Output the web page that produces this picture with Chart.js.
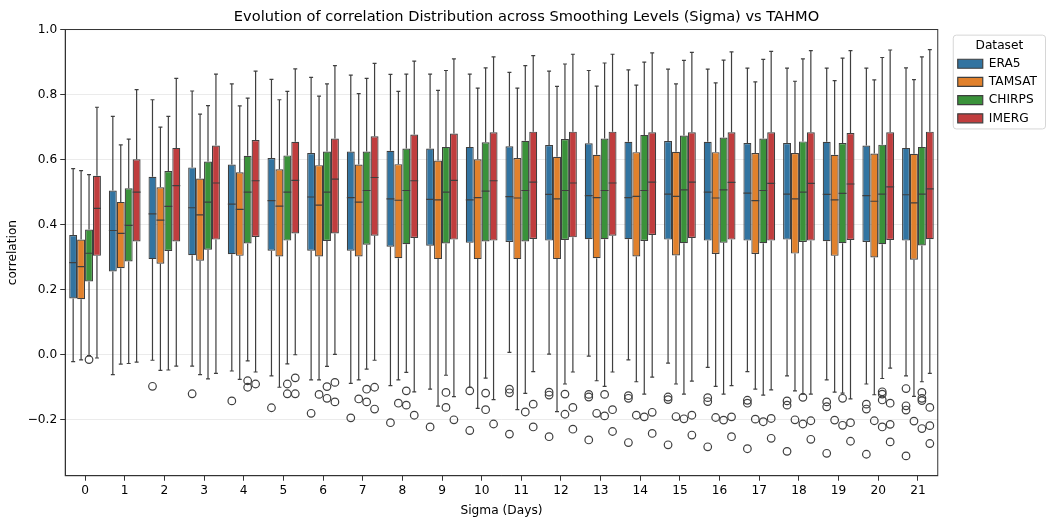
<!DOCTYPE html>
<html>
<head>
<meta charset="utf-8">
<script src="https://cdn.jsdelivr.net/npm/chart.js@4"></script>
<style>
  html, body { margin: 0; padding: 0; background: #fff; }
  #wrap { width: 1055px; height: 522px; }
</style>
</head>
<body>
<div id="wrap"><canvas id="boxChart" width="1055" height="522"></canvas></div>
<script>
const sigmas = ['0','1','2','3','4','5','6','7','8','9','10','11','12','13','14','15','16','17','18','19','20','21'];
const yTicks = [-0.2, 0.0, 0.2, 0.4, 0.6, 0.8, 1.0];

// ERA5
const era5Hi  = [0.572,0.733,0.784,0.811,0.833,0.847,0.853,0.860,0.862,0.863,0.863,0.868,0.872,0.874,0.876,0.878,0.878,0.881,0.881,0.881,0.881,0.882];
const era5Q3  = [0.368,0.505,0.547,0.576,0.585,0.605,0.620,0.625,0.627,0.634,0.639,0.641,0.645,0.650,0.655,0.657,0.655,0.651,0.651,0.655,0.643,0.636];
const era5Med = [0.283,0.382,0.433,0.452,0.463,0.474,0.485,0.483,0.479,0.478,0.476,0.486,0.493,0.489,0.483,0.494,0.500,0.497,0.494,0.493,0.489,0.492];
const era5Q1  = [0.173,0.256,0.294,0.306,0.309,0.320,0.320,0.320,0.332,0.335,0.344,0.347,0.351,0.355,0.355,0.354,0.351,0.351,0.354,0.349,0.347,0.351];
const era5Lo  = [-0.021,-0.061,-0.017,-0.035,-0.050,-0.065,-0.077,-0.088,-0.095,-0.106,-0.100,0.007,0.002,-0.004,-0.016,-0.026,-0.039,-0.052,-0.065,-0.077,-0.090,-0.065];
const era5Out = [[],[],[-0.097],[-0.12],[-0.142],[-0.163],[-0.18],[-0.194],[-0.209],[-0.222],[-0.111,-0.233],[-0.106,-0.117,-0.244],[-0.115,-0.124,-0.252],[-0.122,-0.13,-0.262],[-0.126,-0.134,-0.27],[-0.13,-0.138,-0.277],[-0.132,-0.144,-0.283],[-0.14,-0.149,-0.289],[-0.142,-0.155,-0.297],[-0.145,-0.16,-0.303],[-0.152,-0.167,-0.306],[-0.104,-0.157,-0.17,-0.311]];

// TAMSAT
const tamsatHi  = [0.566,0.645,0.700,0.740,0.765,0.784,0.795,0.803,0.810,0.813,0.820,0.820,0.825,0.826,0.829,0.833,0.836,0.839,0.841,0.843,0.845,0.846];
const tamsatQ3  = [0.354,0.470,0.515,0.542,0.561,0.570,0.583,0.585,0.586,0.597,0.601,0.605,0.609,0.615,0.623,0.624,0.623,0.620,0.620,0.615,0.619,0.618];
const tamsatMed = [0.271,0.373,0.414,0.430,0.447,0.457,0.460,0.469,0.475,0.476,0.483,0.482,0.479,0.483,0.487,0.487,0.482,0.474,0.479,0.476,0.472,0.467];
const tamsatQ1  = [0.171,0.266,0.280,0.289,0.304,0.302,0.302,0.302,0.297,0.294,0.294,0.294,0.294,0.297,0.302,0.305,0.310,0.310,0.311,0.304,0.299,0.292];
const tamsatLo  = [-0.016,-0.029,-0.048,-0.061,-0.076,-0.100,-0.077,-0.077,-0.077,-0.158,-0.165,-0.169,-0.175,-0.080,-0.083,-0.090,-0.097,-0.106,-0.111,-0.115,-0.123,-0.128];
const tamsatOut = [[],[],[],[],[],[],[-0.122],[-0.136],[-0.149],[],[],[],[],[-0.18],[-0.186],[-0.19],[-0.193],[-0.198],[-0.2],[-0.201],[-0.203],[-0.204]];

// CHIRPS
const chirpsHi  = [0.554,0.663,0.733,0.766,0.789,0.810,0.833,0.850,0.863,0.874,0.882,0.889,0.894,0.897,0.900,0.905,0.906,0.908,0.910,0.912,0.914,0.916];
const chirpsQ3  = [0.385,0.512,0.565,0.594,0.612,0.613,0.625,0.625,0.634,0.639,0.653,0.658,0.663,0.665,0.676,0.674,0.668,0.665,0.656,0.651,0.646,0.639];
const chirpsMed = [0.312,0.398,0.456,0.469,0.500,0.500,0.500,0.505,0.505,0.500,0.503,0.505,0.505,0.505,0.505,0.507,0.507,0.505,0.500,0.496,0.494,0.494];
const chirpsQ1  = [0.225,0.287,0.319,0.323,0.342,0.351,0.350,0.338,0.340,0.342,0.348,0.348,0.353,0.355,0.350,0.343,0.344,0.343,0.347,0.343,0.340,0.336];
const chirpsLo  = [-0.003,-0.027,-0.047,-0.074,-0.019,-0.028,-0.036,-0.044,-0.054,-0.063,-0.072,-0.119,-0.090,-0.097,-0.121,-0.121,-0.121,-0.124,-0.121,-0.118,-0.073,-0.083];
const chirpsOut = [[-0.015],[],[],[],[-0.08,-0.1],[-0.09,-0.12],[-0.098,-0.134],[-0.106,-0.145],[-0.111,-0.155],[-0.116,-0.162],[-0.118,-0.169],[-0.176],[-0.121,-0.183],[-0.122,-0.188],[-0.191],[-0.197],[-0.201],[-0.206],[-0.131,-0.213],[-0.134,-0.217],[-0.114,-0.121,-0.139,-0.222],[-0.116,-0.134,-0.141,-0.227]];

// IMERG
const imergHi  = [0.761,0.815,0.850,0.863,0.872,0.879,0.889,0.896,0.903,0.910,0.916,0.920,0.924,0.924,0.928,0.930,0.931,0.933,0.935,0.935,0.937,0.938];
const imergQ3  = [0.550,0.601,0.636,0.643,0.660,0.655,0.665,0.672,0.677,0.680,0.684,0.686,0.686,0.686,0.684,0.684,0.684,0.684,0.684,0.682,0.684,0.686];
const imergMed = [0.450,0.500,0.520,0.528,0.535,0.536,0.540,0.545,0.535,0.536,0.535,0.531,0.528,0.528,0.531,0.531,0.530,0.527,0.527,0.525,0.516,0.510];
const imergQ1  = [0.304,0.348,0.348,0.354,0.362,0.373,0.373,0.366,0.359,0.354,0.351,0.356,0.361,0.366,0.368,0.359,0.354,0.351,0.351,0.353,0.353,0.355];
const imergLo  = [-0.010,-0.023,-0.035,-0.057,-0.053,0.000,0.001,-0.017,-0.114,-0.129,-0.138,-0.052,-0.053,-0.053,-0.069,-0.081,-0.095,-0.108,-0.121,-0.136,-0.041,-0.057];
const imergOut = [[],[],[],[],[-0.09],[-0.071,-0.12],[-0.085,-0.145],[-0.1,-0.167],[-0.186],[-0.2],[-0.213],[-0.152,-0.222],[-0.162,-0.229],[-0.169,-0.236],[-0.177,-0.242],[-0.186,-0.247],[-0.191,-0.252],[-0.196,-0.257],[-0.203,-0.26],[-0.209,-0.266],[-0.149,-0.214,-0.268],[-0.162,-0.218,-0.273]];

const edge = '#3f3f3f';

function boxSet(label, color, q1, q3, med, lo, hi, out) {
  return {
    label: label,
    data: q1.map((v, i) => [v, q3[i]]),
    backgroundColor: color,
    borderColor: edge,
    borderWidth: 1.2,
    borderSkipped: false,
    categoryPercentage: 0.8,
    barPercentage: 1.0,
    med: med, lo: lo, hi: hi, out: out
  };
}

// whiskers, caps, medians and fliers drawn from each box element
const boxParts = {
  id: 'boxParts',
  afterDatasetsDraw(chart) {
    const ctx = chart.ctx;
    const y = chart.scales.y;
    ctx.save();
    ctx.strokeStyle = edge;
    ctx.lineWidth = 1.2;
    chart.data.datasets.forEach((ds, d) => {
      const meta = chart.getDatasetMeta(d);
      meta.data.forEach((bar, i) => {
        const x = bar.x, w = bar.width;
        const q1 = y.getPixelForValue(ds.data[i][0]);
        const q3 = y.getPixelForValue(ds.data[i][1]);
        const lo = y.getPixelForValue(ds.lo[i]);
        const hi = y.getPixelForValue(ds.hi[i]);
        const m = y.getPixelForValue(ds.med[i]);
        ctx.beginPath();
        ctx.moveTo(x, q3); ctx.lineTo(x, hi);
        ctx.moveTo(x, q1); ctx.lineTo(x, lo);
        ctx.moveTo(x - w / 4, hi); ctx.lineTo(x + w / 4, hi);
        ctx.moveTo(x - w / 4, lo); ctx.lineTo(x + w / 4, lo);
        ctx.moveTo(x - w / 2, m); ctx.lineTo(x + w / 2, m);
        ctx.stroke();
        ds.out[i].forEach(v => {
          ctx.beginPath();
          ctx.arc(x, y.getPixelForValue(v), 3.8, 0, Math.PI * 2);
          ctx.stroke();
        });
      });
    });
    ctx.restore();
  },
  afterDraw(chart) {
    const ctx = chart.ctx;
    const a = chart.chartArea;
    ctx.save();
    ctx.strokeStyle = '#333';
    ctx.lineWidth = 1;
    ctx.strokeRect(a.left, a.top, a.right - a.left, a.bottom - a.top);
    // legend frame
    const lg = chart.legend;
    if (lg && lg.legendHitBoxes.length) {
      const boxes = lg.legendHitBoxes;
      const left = Math.min(...boxes.map(b => b.left)) - 5;
      const right = lg.right - 2;
      const top = boxes[0].top - 23;
      const last = boxes[boxes.length - 1];
      const bottom = last.top + last.height + 4;
      ctx.strokeStyle = '#d6d6d6';
      ctx.beginPath();
      ctx.roundRect(left + 0.5, top + 0.5, right - left, bottom - top, 3);
      ctx.stroke();
    }
    ctx.restore();
  }
};

Chart.defaults.font.family = 'DejaVu Sans';
Chart.defaults.font.size = 12;
Chart.defaults.color = '#000';

new Chart(document.getElementById('boxChart'), {
  type: 'bar',
  data: {
    labels: sigmas,
    datasets: [
      boxSet('ERA5', '#3274a1', era5Q1, era5Q3, era5Med, era5Lo, era5Hi, era5Out),
      boxSet('TAMSAT', '#e1812c', tamsatQ1, tamsatQ3, tamsatMed, tamsatLo, tamsatHi, tamsatOut),
      boxSet('CHIRPS', '#3a923a', chirpsQ1, chirpsQ3, chirpsMed, chirpsLo, chirpsHi, chirpsOut),
      boxSet('IMERG', '#c03d3e', imergQ1, imergQ3, imergMed, imergLo, imergHi, imergOut)
    ]
  },
  options: {
    responsive: false,
    animation: false,
    layout: { padding: { left: 6, right: 8, top: 0, bottom: 4 } },
    plugins: {
      tooltip: { enabled: false },
      title: {
        display: true,
        text: 'Evolution of correlation Distribution across Smoothing Levels (Sigma) vs TAHMO',
        font: { size: 14.6, weight: 'normal' },
        padding: { top: 8, bottom: 4 }
      },
      legend: {
        position: 'right',
        align: 'start',
        title: { display: true, text: 'Dataset', font: { size: 12.2 }, padding: { top: 40, bottom: -3 } },
        labels: { boxWidth: 25, boxHeight: 9, padding: 6, font: { size: 12.2 } }
      }
    },
    scales: {
      x: {
        title: { display: true, text: 'Sigma (Days)', font: { size: 12.2 }, padding: { top: 2, bottom: 0 } },
        grid: { drawOnChartArea: false, offset: false, tickLength: 5, tickColor: '#333' },
        border: { color: '#333' },
        ticks: { font: { size: 12.2 }, maxRotation: 0, padding: 3 }
      },
      y: {
        min: -0.372,
        max: 1.0,
        title: { display: true, text: 'correlation', font: { size: 12.2 }, padding: { top: 0, bottom: 4 } },
        grid: { color: '#ebebeb', tickLength: 5, tickColor: '#333' },
        border: { color: '#333' },
        afterBuildTicks: s => { s.ticks = yTicks.map(v => ({ value: v })); },
        ticks: {
          font: { size: 12.2 },
          padding: 3,
          callback: v => v.toFixed(1).replace('-', '\u2212')
        }
      },
      // empty spacer between the plot and the legend
      gap: {
        position: 'right',
        axis: 'y',
        display: true,
        grid: { display: false },
        border: { display: false },
        ticks: { display: false },
        afterFit: s => { s.width = 14; }
      }
    }
  },
  plugins: [boxParts]
});
</script>
</body>
</html>
